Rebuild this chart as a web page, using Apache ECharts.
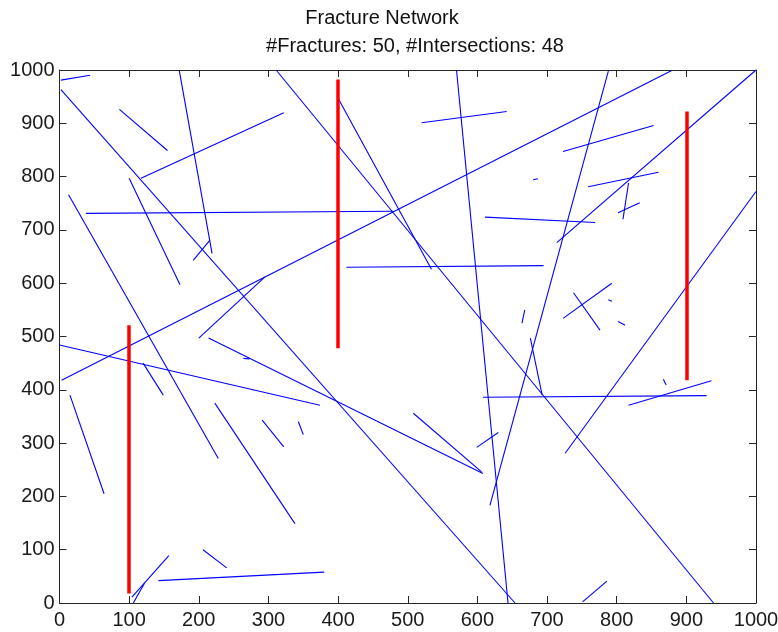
<!DOCTYPE html>
<html>
<head>
<meta charset="utf-8">
<script src="https://cdn.jsdelivr.net/npm/echarts@6/dist/echarts.min.js"></script>
<style>
  html, body { margin: 0; padding: 0; background: #ffffff; }
  #chart { width: 778px; height: 632px; }
</style>
</head>
<body>
<div id="chart"></div>
<script>
// Fracture segments: [x1, y1, x2, y2]
const fractures = [
  [2, 981, 44, 990],
  [2, 963, 654, 0],
  [570, 1000, 644, 0],
  [172, 999, 219, 656],
  [192, 643, 216, 681],
  [86, 926, 155, 849],
  [117, 797, 322, 920],
  [38, 731, 479, 735],
  [13, 766, 228, 271],
  [100, 797, 173, 597],
  [3, 418, 879, 999],
  [714, 676, 1000, 1000],
  [726, 281, 1000, 772],
  [311, 1000, 939, 0],
  [400, 947, 534, 626],
  [0, 484, 374, 371],
  [214, 497, 608, 243],
  [200, 497, 295, 612],
  [508, 356, 606, 246],
  [608, 386, 929, 389],
  [618, 183, 788, 998],
  [599, 292, 630, 320],
  [676, 497, 693, 390],
  [664, 525, 668, 550],
  [723, 534, 793, 600],
  [738, 582, 776, 512],
  [788, 569, 793, 566],
  [802, 528, 812, 521],
  [867, 420, 871, 409],
  [817, 371, 936, 417],
  [723, 847, 853, 896],
  [680, 794, 687, 796],
  [759, 781, 860, 808],
  [817, 788, 809, 720],
  [802, 732, 833, 751],
  [611, 724, 769, 714],
  [520, 901, 642, 922],
  [412, 630, 695, 633],
  [15, 390, 64, 205],
  [223, 375, 338, 149],
  [291, 343, 322, 293],
  [120, 450, 149, 390],
  [104, 11, 157, 89],
  [106, 0, 122, 37],
  [206, 100, 240, 66],
  [142, 42, 380, 58],
  [751, 2, 786, 41],
  [343, 340, 350, 316],
  [264, 459, 273, 458]
];

// Wells: [x, yBottom, yTop]
const wells = [
  [100, 18, 521],
  [400, 478, 982],
  [900, 418, 922]
];

const xTicks = [0, 100, 200, 300, 400, 500, 600, 700, 800, 900, 1000];
const yTicks = [0, 100, 200, 300, 400, 500, 600, 700, 800, 900, 1000];

const titleText = 'Fracture Network';
const subtitleText = '#Fractures: 50, #Intersections: 48';

const FONT = '"Liberation Sans", Arial, sans-serif';
const AXIS_COLOR = '#262626';

function boxAxis(position, showLabel, ticks, labelMargin) {
  return {
    type: 'value',
    position: position,
    min: ticks[0],
    max: ticks[ticks.length - 1],
    interval: ticks[1] - ticks[0],
    axisLine: { show: true, onZero: false, lineStyle: { color: AXIS_COLOR, width: 1 } },
    axisTick: { show: true, inside: true, length: 7, lineStyle: { color: AXIS_COLOR, width: 1 } },
    axisLabel: {
      show: showLabel,
      fontFamily: FONT,
      fontSize: 20,
      color: '#1a1a1a',
      margin: labelMargin,
      formatter: v => String(v)
    },
    splitLine: { show: false }
  };
}

const chart = echarts.init(document.getElementById('chart'), null, { renderer: 'canvas' });

chart.setOption({
  animation: false,
  backgroundColor: '#ffffff',
  title: [
    {
      text: titleText,
      left: 377,
      top: 3,
      textAlign: 'center',
      textStyle: { fontFamily: FONT, fontSize: 20, fontWeight: 'normal', color: '#111' }
    },
    {
      text: subtitleText,
      left: 410,
      top: 31,
      textAlign: 'center',
      textStyle: { fontFamily: FONT, fontSize: 20, fontWeight: 'normal', color: '#111' }
    }
  ],
  grid: {
    left: 59.5, right: 22, top: 70, bottom: 29,
    containLabel: false,
    outerBoundsMode: 'none'
  },
  xAxis: [boxAxis('bottom', true, xTicks, 7), boxAxis('top', false, xTicks, 7)],
  yAxis: [boxAxis('left', true, yTicks, 5), boxAxis('right', false, yTicks, 5)],
  series: [
    {
      type: 'lines',
      coordinateSystem: 'cartesian2d',
      xAxisIndex: 0,
      yAxisIndex: 0,
      polyline: false,
      silent: true,
      z: 2,
      lineStyle: { color: '#0000ff', width: 1.1, opacity: 1 },
      data: fractures.map(f => ({ coords: [[f[0], f[1]], [f[2], f[3]]] }))
    },
    {
      type: 'lines',
      coordinateSystem: 'cartesian2d',
      xAxisIndex: 0,
      yAxisIndex: 0,
      polyline: false,
      silent: true,
      z: 3,
      lineStyle: { color: '#ff0000', width: 3.5, opacity: 1 },
      data: wells.map(w => ({ coords: [[w[0], w[1]], [w[0], w[2]]] }))
    }
  ]
});
</script>
</body>
</html>
